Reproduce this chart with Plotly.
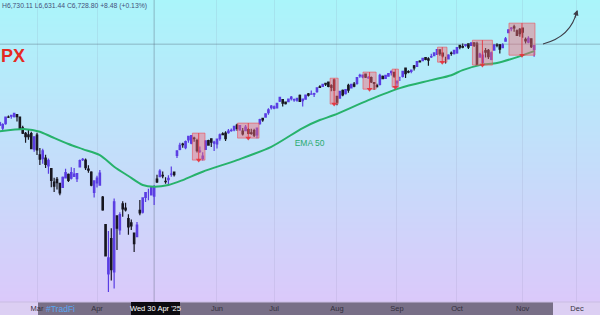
import math
import plotly.graph_objects as go

# ---------------- data ----------------
dates = (
    ["2025-02-%s" % d for d in ["10","11","12","13","14","18","19","20","21","24","25","26","27","28"]]
    + ["2025-03-%s" % d for d in ["03","04","05","06","07","10","11","12","13","14","17","18","19","20","21","24","25","26","27","28","31"]]
    + ["2025-04-%s" % d for d in ["01","02","03","04","07","08","09","10","11","14","15","16","17","21","22","23","24","25","28","29","30"]]
    + ["2025-05-%s" % d for d in ["01","02","05","06","07","08","09","12","13","14","15","16","19","20","21","22","23","27","28","29","30"]]
    + ["2025-06-%s" % d for d in ["02","03","04","05","06","09","10","11","12","13","16","17","18","20","23","24","25","26","27","30"]]
    + ["2025-07-%s" % d for d in ["01","02","03","07","08","09","10","11","14","15","16","17","18","21","22","23","24","25","28","29","30","31"]]
    + ["2025-08-%s" % d for d in ["01","04","05","06","07","08","11","12","13","14","15","18","19","20","21","22","25","26","27","28","29"]]
    + ["2025-09-%s" % d for d in ["02","03","04","05","08","09","10","11","12","15","16","17","18","19","22","23","24","25","26","29","30"]]
    + ["2025-10-%s" % d for d in ["01","02","03","06","07","08","09","10","13","14","15","16","17","20","21","22","23","24","27","28","29","30","31"]]
    + ["2025-11-%s" % d for d in ["03","04","05","06","07"]]
)

opens = [
    6046,6049,6025,6060,6115,6121,6117,6134,6115,6027,5982,5970,5981,5857,
    5968,5811,5782,5786,5726,5705,5603,5624,5594,5563,5635,5662,5632,5646,5630,5718,5775,5772,5701,5679,5527,
    5597,5581,5492,5293,4953,5194,4966,5354,5255,5441,5411,5335,5305,5232,5207,5395,5381,5489,5529,5508,5499,
    5625,5645,5655,5609,5622,5663,5679,5808,5854,5896,5869,5929,5903,5945,5924,5841,5782,5854,5925,5939,5903,
    5897,5939,5979,5985,5987,6004,6009,6049,6009,6000,6004,6012,5987,6004,5969,6061,6104,6114,6151,6193,
    6187,6191,6246,6260,6238,6243,6267,6256,6255,6295,6251,6263,6307,6305,6306,6326,6368,6371,6397,6409,6378,6428,
    6287,6272,6337,6310,6381,6358,6390,6397,6461,6453,6478,6445,6447,6404,6379,6389,6458,6440,6459,6489,6492,
    6401,6448,6457,6529,6499,6500,6550,6545,6591,6595,6623,6611,6629,6641,6652,6692,6662,6605,6612,6662,6658,
    6665,6732,6722,6733,6747,6733,6755,6745,6627,6579,6684,6687,6607,6690,6736,6740,6711,6770,6847,6886,6901,6865,6879,
    6889,6786,6761,6792,6696,
]
highs = [
    6073,6076,6063,6116,6127,6130,6147,6135,6120,6043,5993,6010,5994,5959,
    5987,5866,5860,5812,5783,5705,5636,5642,5597,5645,5704,5669,5715,5711,5670,5775,5787,5784,5732,5685,5615,
    5651,5695,5500,5293,5247,5267,5481,5354,5381,5460,5450,5367,5328,5233,5310,5470,5489,5528,5553,5571,5581,
    5659,5700,5684,5640,5654,5721,5683,5847,5907,5907,5924,5959,5968,5954,5938,5878,5833,5924,5930,5943,5922,
    5937,5981,5991,5999,6017,6022,6043,6060,6046,6026,6050,6024,6019,6019,6026,6101,6108,6146,6187,6215,
    6210,6228,6284,6262,6242,6269,6290,6269,6272,6302,6266,6303,6315,6336,6317,6360,6381,6390,6401,6410,6389,6428,
    6288,6330,6344,6349,6395,6395,6410,6446,6481,6474,6482,6459,6456,6405,6394,6481,6466,6467,6486,6508,6495,
    6416,6454,6503,6533,6511,6513,6556,6592,6600,6619,6627,6625,6656,6671,6695,6697,6667,6630,6653,6677,6693,
    6718,6735,6750,6745,6749,6755,6759,6764,6666,6679,6709,6700,6677,6745,6752,6741,6751,6808,6876,6901,6920,6877,6890,
    6890,6803,6816,6797,6730,
]
lows = [
    6044,6042,6003,6051,6107,6100,6111,6079,6009,5977,5908,5930,5858,5837,
    5810,5733,5742,5711,5667,5565,5529,5547,5505,5563,5630,5603,5622,5641,5603,5718,5765,5695,5674,5572,5489,
    5562,5578,5391,5070,4835,4910,4857,5115,5221,5349,5386,5220,5255,5101,5207,5359,5371,5455,5468,5506,5434,
    5597,5645,5632,5590,5578,5644,5646,5787,5848,5868,5855,5907,5895,5915,5830,5826,5768,5854,5885,5874,5843,
    5861,5922,5966,5921,5978,5994,6000,6003,6004,5964,6004,5975,5970,5952,5943,6052,6077,6108,6133,6177,
    6178,6191,6240,6201,6218,6237,6251,6241,6242,6243,6201,6263,6285,6303,6282,6318,6360,6367,6375,6364,6331,6332,
    6213,6272,6287,6302,6317,6358,6364,6385,6445,6441,6444,6437,6401,6343,6361,6380,6438,6434,6454,6465,6445,
    6361,6417,6447,6443,6484,6485,6509,6540,6579,6590,6600,6551,6618,6634,6651,6640,6623,6570,6609,6640,6651,
    6656,6698,6706,6720,6700,6727,6717,6551,6627,6570,6624,6610,6599,6689,6716,6658,6709,6765,6844,6862,6856,6817,6810,
    6801,6749,6751,6708,6631,
]
closes = [
    6066,6068,6052,6115,6114,6129,6144,6117,6013,5983,5955,5956,5861,5955,
    5850,5778,5843,5738,5770,5615,5572,5599,5522,5639,5675,5615,5675,5663,5668,5768,5777,5712,5693,5581,5612,
    5633,5671,5397,5074,5062,4982,5457,5268,5363,5406,5397,5276,5283,5158,5288,5376,5485,5525,5529,5561,5569,
    5604,5687,5650,5607,5631,5664,5660,5844,5886,5892,5917,5958,5964,5940,5845,5842,5802,5922,5889,5912,5912,
    5936,5970,5971,5939,6000,6006,6039,6022,6045,5977,6033,5982,5981,5967,6025,6093,6092,6141,6173,6205,
    6198,6227,6279,6230,6226,6263,6280,6259,6269,6244,6264,6297,6297,6306,6310,6359,6363,6389,6390,6371,6362,6339,
    6238,6330,6299,6345,6340,6389,6374,6446,6466,6469,6450,6449,6411,6396,6370,6467,6439,6466,6481,6502,6460,
    6416,6448,6502,6482,6495,6512,6532,6588,6584,6615,6607,6600,6632,6664,6693,6657,6638,6605,6644,6661,6688,
    6711,6715,6716,6740,6715,6754,6735,6553,6654,6644,6671,6630,6664,6735,6735,6699,6738,6792,6875,6891,6891,6822,6840,
    6852,6772,6796,6720,6729,
]

# EMA 50 (bar index, value)
ema_bar = [0, 10, 15, 19, 25, 30, 36, 41, 46, 51, 55, 60, 65, 72, 84, 96, 107, 113, 118, 130, 141, 152, 159, 163, 169, 175, 181, 188]
ema_val = [5995, 6016, 5995, 5955, 5897, 5857, 5810, 5720, 5649, 5581, 5568, 5581, 5618, 5682, 5771, 5875, 6025, 6090, 6131, 6255, 6357, 6425, 6468, 6512, 6556, 6574, 6618, 6680]

# price-range drawings (bar index span, price span)
box_start = [68.4, 84.2, 116.6, 128.1, 138.3, 154.2, 166.4, 179.2]
box_end = [72.8, 91.7, 119.4, 132.7, 140.5, 157.5, 173.4, 188.3]
box_high = [5984, 6065, 6442, 6495, 6521, 6716, 6779, 6936]
box_low = [5771, 5944, 6222, 6348, 6365, 6582, 6556, 6644]

# month labels visible on the time axis ("May" sits under the crosshair date label)
month_labels = ["Mar", "Apr", "Jun", "Jul", "Aug", "Sep", "Oct", "Nov", "Dec"]
month_bar = [14, 35, 77, 97, 119, 140, 161, 184, 203]

cross_bar = 55
cross_price = 6743
cross_label = "Wed 30 Apr '25"
legend_text = "H6,730.11 L6,631.44 C6,728.80 +8.48 (+0.13%)"

# ---------------- figure ----------------
W, H = 600, 315
B = 13
PH = H - B
X_RANGE = [1.05, 211.06]
Y_RANGE = [math.log10(4770), math.log10(7155)]

def px(xp):
    return xp / W

def py(yp):
    return 1 - yp / PH

x = list(range(len(dates)))
fig = go.Figure()

# crosshair horizontal
fig.add_trace(go.Scatter(x=X_RANGE, y=[cross_price, cross_price], mode="lines",
                         line=dict(color="rgba(80,90,110,0.38)", width=1),
                         hoverinfo="skip"))

fig.add_trace(go.Candlestick(
    x=x, open=opens, high=highs, low=lows, close=closes,
    increasing=dict(line=dict(color="#5a3de3", width=1.2), fillcolor="#5a3de3"),
    decreasing=dict(line=dict(color="#17161f", width=1.2), fillcolor="#17161f"),
    whiskerwidth=0, hoverinfo="skip"))

fig.add_trace(go.Scatter(x=ema_bar, y=ema_val, mode="lines",
                         line=dict(color="#27b26b", width=2, shape="spline", smoothing=0.8),
                         hoverinfo="skip"))

bx, by, mx, my, ax_, ay_ = [], [], [], [], [], []
for s, e, hi, lo in zip(box_start, box_end, box_high, box_low):
    bx += [s, e, e, s, s, None]
    by += [hi, hi, lo, lo, hi, None]
    m = (s + e) / 2
    mx += [m, m, None]
    my += [hi, lo, None]
    ax_.append(m)
    ay_.append(lo)
fig.add_trace(go.Scatter(x=bx, y=by, mode="lines", fill="toself",
                         fillcolor="rgba(245,105,115,0.45)",
                         line=dict(color="rgba(235,80,90,0.6)", width=1), hoverinfo="skip"))
fig.add_trace(go.Scatter(x=mx, y=my, mode="lines",
                         line=dict(color="rgba(230,50,60,0.85)", width=1), hoverinfo="skip"))
fig.add_trace(go.Scatter(x=ax_, y=ay_, mode="markers",
                         marker=dict(symbol="triangle-down", size=5, color="rgba(230,50,60,0.9)"),
                         hoverinfo="skip"))

fig.add_trace(go.Scatter(x=[109.4], y=[5897], mode="text", text=["EMA 50"],
                         textfont=dict(color="#2aab70", size=8.5, family="Liberation Sans"),
                         hoverinfo="skip"))

shapes = []
# background gradient
top = (170, 245, 250)
bot = (221, 199, 250)
n = 105
for i in range(n):
    t = (i + 0.5) / n
    c = tuple(int(round(top[k] + (bot[k] - top[k]) * t)) for k in range(3))
    shapes.append(dict(type="rect", xref="paper", yref="paper", layer="below",
                       x0=0, x1=1, y0=py(i * 3 + 3.2), y1=py(i * 3),
                       fillcolor="rgb(%d,%d,%d)" % c, line=dict(width=0)))
# time axis strip
shapes.append(dict(type="rect", xref="paper", yref="paper", layer="below",
                   x0=0, x1=1, y0=py(H), y1=py(PH), fillcolor="#dccff3", line=dict(width=0)))
shapes.append(dict(type="rect", xref="paper", yref="paper", layer="below",
                   x0=px(38), x1=px(553), y0=py(H + 2), y1=py(PH), fillcolor="#786f87",
                   line=dict(width=0)))
shapes.append(dict(type="line", xref="paper", yref="paper", layer="below",
                   x0=0, x1=1, y0=py(PH), y1=py(PH), line=dict(color="#c9bde3", width=1)))
# crosshair vertical
shapes.append(dict(type="line", xref="x", yref="paper", layer="below",
                   x0=cross_bar, x1=cross_bar, y0=0, y1=1,
                   line=dict(color="rgba(80,90,110,0.38)", width=1)))
# date label box
shapes.append(dict(type="rect", xref="paper", yref="paper", layer="above",
                   x0=px(131), x1=px(180), y0=py(H + 2), y1=py(PH), fillcolor="#0c0b10",
                   line=dict(width=0)))
# curved arrow
shapes.append(dict(type="path", xref="paper", yref="paper", layer="above",
                   path="M %.4f,%.4f Q %.4f,%.4f %.4f,%.4f" % (px(543), py(44), px(571), py(37), px(577), py(11)),
                   line=dict(color="#3d3d48", width=1.1)))

annotations = [
    dict(xref="paper", yref="paper", x=px(577.5), y=py(10), ax=-3, ay=9, showarrow=True,
         arrowhead=2, arrowsize=1, arrowwidth=1.1, arrowcolor="#3d3d48", text=""),
    dict(xref="paper", yref="paper", x=px(155.5), y=py(308.5), text=cross_label, showarrow=False,
         font=dict(color="#ffffff", size=7.5, family="Liberation Sans"), xanchor="center", yanchor="middle"),
    dict(xref="paper", yref="paper", x=px(44), y=py(309), text="#TradFi", showarrow=False,
         font=dict(color="#5aa6f2", size=8.5, family="Liberation Sans"), xanchor="left", yanchor="middle"),
    dict(xref="paper", yref="paper", x=px(0), y=py(6), text=legend_text, showarrow=False,
         font=dict(color="#45507a", size=6.8, family="Liberation Sans"), xanchor="left", yanchor="middle"),
    dict(xref="paper", yref="paper", x=px(-1), y=py(55.5), text="<b>PX</b>", showarrow=False,
         font=dict(color="#e52a22", size=18, family="Liberation Sans"), xanchor="left", yanchor="middle"),
]

fig.update_layout(
    width=W, height=H,
    margin=dict(l=0, r=0, t=0, b=B, pad=0),
    paper_bgcolor="#dccff3", plot_bgcolor="rgba(0,0,0,0)",
    showlegend=False, hovermode=False,
    shapes=shapes, annotations=annotations,
    xaxis=dict(range=X_RANGE, tickvals=month_bar, ticktext=month_labels,
               tickfont=dict(size=7.5, color="#34303e", family="Liberation Sans"),
               showgrid=True, gridcolor="rgba(120,120,160,0.13)", gridwidth=1,
               zeroline=False, showline=False, ticks="", rangeslider=dict(visible=False),
               fixedrange=True),
    yaxis=dict(type="log", range=Y_RANGE, showticklabels=False, showgrid=False,
               zeroline=False, showline=False, fixedrange=True),
)

fig.write_html("out.html", config={"displayModeBar": False})
